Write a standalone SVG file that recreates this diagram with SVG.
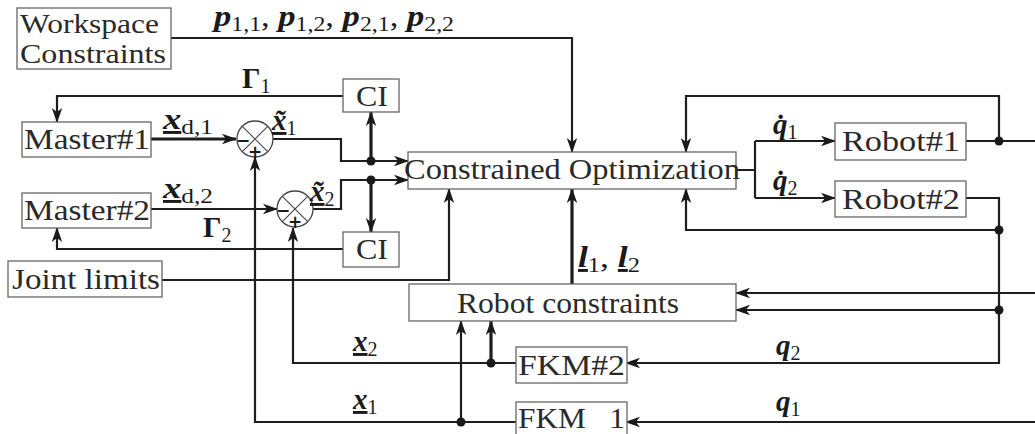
<svg xmlns="http://www.w3.org/2000/svg" width="1035" height="434" viewBox="0 0 1035 434">
<style>
.box{fill:#fff;stroke:#666;stroke-width:1.3}
.t{font-family:"Liberation Serif","DejaVu Serif",serif;font-size:30px;fill:#2a2a2a}
.w{font-size:27px}
.m{font-family:"Liberation Serif","DejaVu Serif",serif;font-size:29px;fill:#1a1a1a}
.bi{font-weight:bold;font-style:italic}
.b{font-weight:bold}
.s{font-size:20px}
.c{fill:none;stroke:#1e1e1e;stroke-width:2.2;stroke-linejoin:miter}
.k{stroke-width:3.2}
.dot{fill:#1a1a1a}
.sum{fill:#fff;stroke:#444;stroke-width:1.3}
.x{stroke:#444;stroke-width:1.1}
.pm{font-family:"DejaVu Sans",sans-serif;font-weight:bold;font-size:17px;fill:#1a1a1a}
</style>
<defs>
<marker id="ah" markerWidth="15" markerHeight="12" refX="14" refY="6" orient="auto" markerUnits="userSpaceOnUse">
<path d="M0,0.8 L15,6 L0,11.2 L4,6 z" fill="#1a1a1a"/>
</marker>
</defs>

<g id="connectors">
<path class="c" d="M171,38 H572 V152" marker-end="url(#ah)"/>
<path class="c" d="M343,96 H57 V122" marker-end="url(#ah)"/>
<path class="c k" d="M151,139 H236" marker-end="url(#ah)"/>
<path class="c" d="M273,139 H341 V161 H408" marker-end="url(#ah)"/>
<path class="c k" d="M371,161 V112" marker-end="url(#ah)"/>
<path class="c" d="M151,209 H277" marker-end="url(#ah)"/>
<path class="c" d="M313,209 H341 V180 H408" marker-end="url(#ah)"/>
<path class="c k" d="M371,180 V232" marker-end="url(#ah)"/>
<path class="c" d="M343,249 H57 V228" marker-end="url(#ah)"/>
<path class="c" d="M162,280 H449 V189" marker-end="url(#ah)"/>
<path class="c" d="M516,422 H255 V157" marker-end="url(#ah)"/>
<path class="c" d="M516,363 H293 V228" marker-end="url(#ah)"/>
<path class="c" d="M461,422 V321" marker-end="url(#ah)"/>
<path class="c k" d="M491,363 V321" marker-end="url(#ah)"/>
<path class="c k" d="M572,284 V189" marker-end="url(#ah)"/>
<path class="c" d="M736,170 H755 M755,141 V198"/>
<path class="c" d="M755,141 H835" marker-end="url(#ah)"/>
<path class="c" d="M755,198 H835" marker-end="url(#ah)"/>
<path class="c" d="M966,141 H1035"/>
<path class="c" d="M999,141 V96 H686 V152" marker-end="url(#ah)"/>
<path class="c" d="M966,198 H999 V363 H626" marker-end="url(#ah)"/>
<path class="c" d="M999,230 H686 V189" marker-end="url(#ah)"/>
<path class="c" d="M999,310 H736" marker-end="url(#ah)"/>
<path class="c" d="M1035,293 H736" marker-end="url(#ah)"/>
<path class="c" d="M1035,422 H626" marker-end="url(#ah)"/>
<circle class="dot" cx="371" cy="161" r="4.5"/>
<circle class="dot" cx="371" cy="180" r="4.5"/>
<circle class="dot" cx="461" cy="422" r="4.5"/>
<circle class="dot" cx="491" cy="363" r="4.5"/>
<circle class="dot" cx="999" cy="141" r="4.5"/>
<circle class="dot" cx="999" cy="230" r="4.5"/>
<circle class="dot" cx="999" cy="310" r="4.5"/>
</g>

<g id="workspace">
<rect class="box" x="17" y="8" width="154" height="61"/>
<text class="t w" x="20" y="33" textLength="139" lengthAdjust="spacingAndGlyphs">Workspace</text>
<text class="t w" x="20" y="63" textLength="146" lengthAdjust="spacingAndGlyphs">Constraints</text>
</g>
<g id="ci1">
<rect class="box" x="343" y="79" width="56" height="33"/>
<text class="t" x="356" y="106" textLength="32" lengthAdjust="spacingAndGlyphs">CI</text>
</g>
<g id="master1">
<rect class="box" x="22" y="122" width="129" height="35"/>
<text class="t" x="24" y="149" textLength="126" lengthAdjust="spacingAndGlyphs">Master#1</text>
</g>
<g id="master2">
<rect class="box" x="22" y="193" width="129" height="35"/>
<text class="t" x="24" y="220" textLength="126" lengthAdjust="spacingAndGlyphs">Master#2</text>
</g>
<g id="ci2">
<rect class="box" x="343" y="232" width="56" height="35"/>
<text class="t" x="356" y="259" textLength="32" lengthAdjust="spacingAndGlyphs">CI</text>
</g>
<g id="jointlimits">
<rect class="box" x="8" y="261" width="154" height="36"/>
<text class="t" x="12" y="289" textLength="148" lengthAdjust="spacingAndGlyphs">Joint limits</text>
</g>
<g id="sum1">
<circle class="sum" cx="255" cy="139" r="18"/>
<path class="x" d="M242.3,126.3 L267.7,151.7 M267.7,126.3 L242.3,151.7"/>
<text class="pm" x="243" y="140" text-anchor="middle" dominant-baseline="central">−</text>
<text class="pm" x="255" y="152" text-anchor="middle" dominant-baseline="central">+</text>
</g>
<g id="sum2">
<circle class="sum" cx="295" cy="209" r="18"/>
<path class="x" d="M282.3,196.3 L307.7,221.7 M307.7,196.3 L282.3,221.7"/>
<text class="pm" x="283" y="210" text-anchor="middle" dominant-baseline="central">−</text>
<text class="pm" x="295" y="222" text-anchor="middle" dominant-baseline="central">+</text>
</g>
<g id="optimization">
<rect class="box" x="408" y="152" width="328" height="37"/>
<text class="t" x="404" y="179" textLength="336" lengthAdjust="spacingAndGlyphs">Constrained Optimization</text>
</g>
<g id="robotconstraints">
<rect class="box" x="409" y="284" width="327" height="37"/>
<text class="t" x="457" y="313" textLength="222" lengthAdjust="spacingAndGlyphs">Robot constraints</text>
</g>
<g id="fkm2">
<rect class="box" x="516" y="347" width="111" height="36"/>
<text class="t" x="518" y="375" textLength="107" lengthAdjust="spacingAndGlyphs">FKM#2</text>
</g>
<g id="fkm1">
<rect class="box" x="516" y="402" width="111" height="40"/>
<text class="t" x="518" y="428" textLength="107" lengthAdjust="spacingAndGlyphs" xml:space="preserve">FKM   1</text>
</g>
<g id="robot1">
<rect class="box" x="835" y="123" width="131" height="37"/>
<text class="t" x="842" y="151" textLength="118" lengthAdjust="spacingAndGlyphs">Robot#1</text>
</g>
<g id="robot2">
<rect class="box" x="835" y="181" width="131" height="36"/>
<text class="t" x="842" y="209" textLength="118" lengthAdjust="spacingAndGlyphs">Robot#2</text>
</g>

<g id="labels">
<text class="m" x="214" y="26" textLength="240" lengthAdjust="spacingAndGlyphs"><tspan class="bi">p</tspan><tspan class="s" dy="5">1,1</tspan><tspan dy="-5">, </tspan><tspan class="bi">p</tspan><tspan class="s" dy="5">1,2</tspan><tspan dy="-5">, </tspan><tspan class="bi">p</tspan><tspan class="s" dy="5">2,1</tspan><tspan dy="-5">, </tspan><tspan class="bi">p</tspan><tspan class="s" dy="5">2,2</tspan></text>
<text class="m" x="242" y="88"><tspan class="b">Γ</tspan><tspan class="s" dy="5">1</tspan></text>
<text class="m" x="203" y="237"><tspan class="b">Γ</tspan><tspan class="s" dy="5">2</tspan></text>
<text class="m" x="163" y="129" textLength="50" lengthAdjust="spacingAndGlyphs"><tspan class="bi" text-decoration="underline">x</tspan><tspan class="s" dy="5">d,1</tspan></text>
<text class="m" x="163" y="198" textLength="50" lengthAdjust="spacingAndGlyphs"><tspan class="bi" text-decoration="underline">x</tspan><tspan class="s" dy="5">d,2</tspan></text>
<text class="m" x="272" y="130"><tspan class="bi" text-decoration="underline">x̃</tspan><tspan class="s" dy="5">1</tspan></text>
<text class="m" x="310" y="201"><tspan class="bi" text-decoration="underline">x̃</tspan><tspan class="s" dy="5">2</tspan></text>
<text class="m" x="578" y="267" textLength="62" lengthAdjust="spacingAndGlyphs"><tspan class="bi" text-decoration="underline">l</tspan><tspan class="s" dy="5">1</tspan><tspan dy="-5">, </tspan><tspan class="bi" text-decoration="underline">l</tspan><tspan class="s" dy="5">2</tspan></text>
<text class="m" x="773" y="134"><tspan class="bi">q̇</tspan><tspan class="s" dy="5">1</tspan></text>
<text class="m" x="773" y="190"><tspan class="bi">q̇</tspan><tspan class="s" dy="5">2</tspan></text>
<text class="m" x="353" y="351"><tspan class="bi" text-decoration="underline">x</tspan><tspan class="s" dy="5">2</tspan></text>
<text class="m" x="353" y="409"><tspan class="bi" text-decoration="underline">x</tspan><tspan class="s" dy="5">1</tspan></text>
<text class="m" x="776" y="355"><tspan class="bi">q</tspan><tspan class="s" dy="5">2</tspan></text>
<text class="m" x="776" y="411"><tspan class="bi">q</tspan><tspan class="s" dy="5">1</tspan></text>
</g>
</svg>
